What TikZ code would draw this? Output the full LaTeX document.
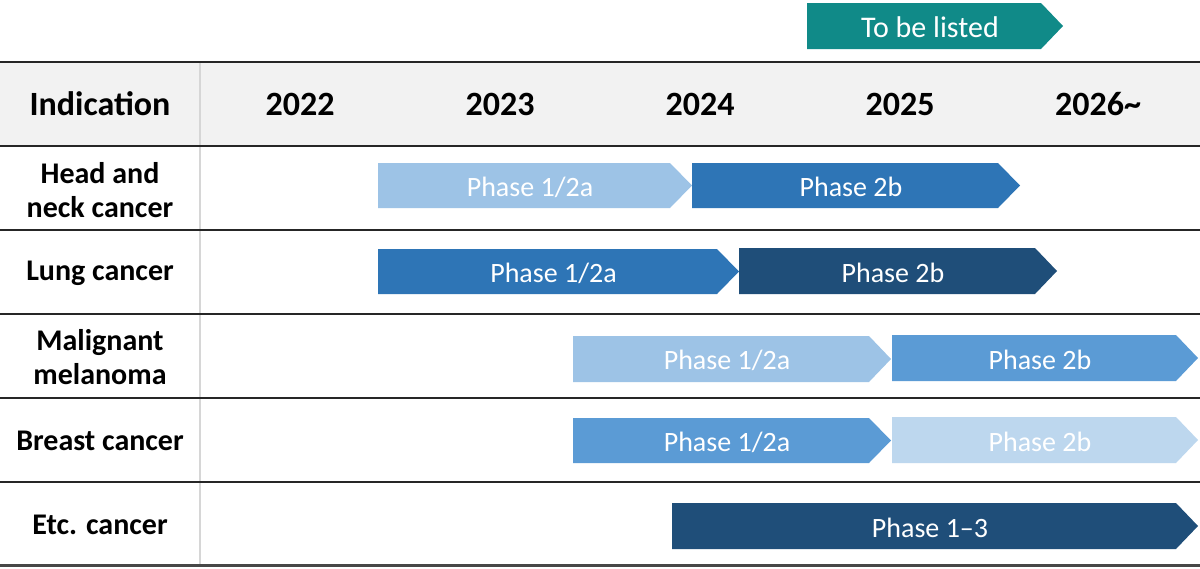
\documentclass[tikz,border=0pt]{standalone}
\usepackage{fontspec}
\setmainfont{Carlito}
\definecolor{lineC}{HTML}{262626}
\definecolor{headC}{HTML}{F2F2F2}
\definecolor{divC}{HTML}{D6D6D6}
\definecolor{pA}{HTML}{9DC3E6}
\definecolor{pB}{HTML}{2E75B6}
\definecolor{pC}{HTML}{1F4E79}
\definecolor{pD}{HTML}{5B9BD5}
\definecolor{pE}{HTML}{BDD7EE}
\definecolor{tealC}{HTML}{108A88}
\tikzset{
  hdr/.style={font=\fontsize{34}{40}\selectfont\bfseries, text=black, inner sep=0pt},
  lbl/.style={font=\fontsize{30}{34}\selectfont\bfseries, text=black, align=center, inner sep=0pt},
  phtext/.style={font=\fontsize{28}{32}\selectfont, text=white, inner sep=0pt},
  rule/.style={draw=lineC, line width=2pt},
}
\newcommand\chev[7]{%
  \fill[#6] (#2,#4) -- (#3-22,#4) -- (#3,{(#4+#5)/2}) -- (#3-22,#5) -- (#2,#5) -- cycle;
  \node[phtext] (#1) at ({(#2+#3)/2-5},{(#4+#5)/2+1.5}) {#7};
}
\begin{document}
\begin{tikzpicture}[x=1pt,y=-1pt]
\useasboundingbox (0,0) rectangle (1200,568);
\fill[white] (0,0) rectangle (1200,568);
% header band
\fill[headC] (0,62) rectangle (1200,145.5);
% vertical divider
\draw[divC, line width=1.5pt] (200,62) -- (200,565);
% rules
\draw[rule] (0,62) -- (1200,62);
\draw[rule] (0,145.5) -- (1200,145.5);
\draw[rule] (0,230) -- (1200,230);
\draw[rule] (0,314) -- (1200,314);
\draw[rule] (0,398) -- (1200,398);
\draw[rule] (0,482) -- (1200,482);
\draw[draw=lineC!85, line width=3.5pt] (0,565.5) -- (1200,565.5);
% header texts
\node[hdr] (hInd) at (100,104) {Indication};
\node[hdr] (h22) at (300,104) {2022};
\node[hdr] (h23) at (500,104) {2023};
\node[hdr] (h24) at (700,104) {2024};
\node[hdr] (h25) at (900,104) {2025};
\node[hdr] (h26) at (1098,104) {2026\textasciitilde};
% row labels
\node[lbl] (r1) at (100,190) {Head and\\neck cancer};
\node[lbl] (r2) at (100,273) {Lung cancer};
\node[lbl] (r3) at (100,357) {Malignant\\melanoma};
\node[lbl] (r4) at (100,441) {Breast cancer};
\node[lbl] (r5) at (100,525) {Etc. cancer};
% banner
\chev{list}{807}{1063}{3}{49}{tealC}{\fontsize{30}{34}\selectfont To be listed}
% phase chevrons
\chev{a1}{378}{692}{163}{208}{pA}{Phase 1/2a}
\chev{b1}{692}{1020}{163}{208}{pB}{Phase 2b}
\chev{a2}{378}{739}{249}{294}{pB}{Phase 1/2a}
\chev{b2}{739}{1057}{248}{294}{pC}{Phase 2b}
\chev{a3}{573}{891}{336}{382}{pA}{Phase 1/2a}
\chev{b3}{892}{1198}{335}{381}{pD}{Phase 2b}
\chev{a4}{573}{891}{418}{463}{pD}{Phase 1/2a}
\chev{b4}{892}{1198}{417}{463}{pE}{Phase 2b}
\chev{a5}{672}{1198}{503}{549}{pC}{Phase 1--3}
\end{tikzpicture}
\end{document}
